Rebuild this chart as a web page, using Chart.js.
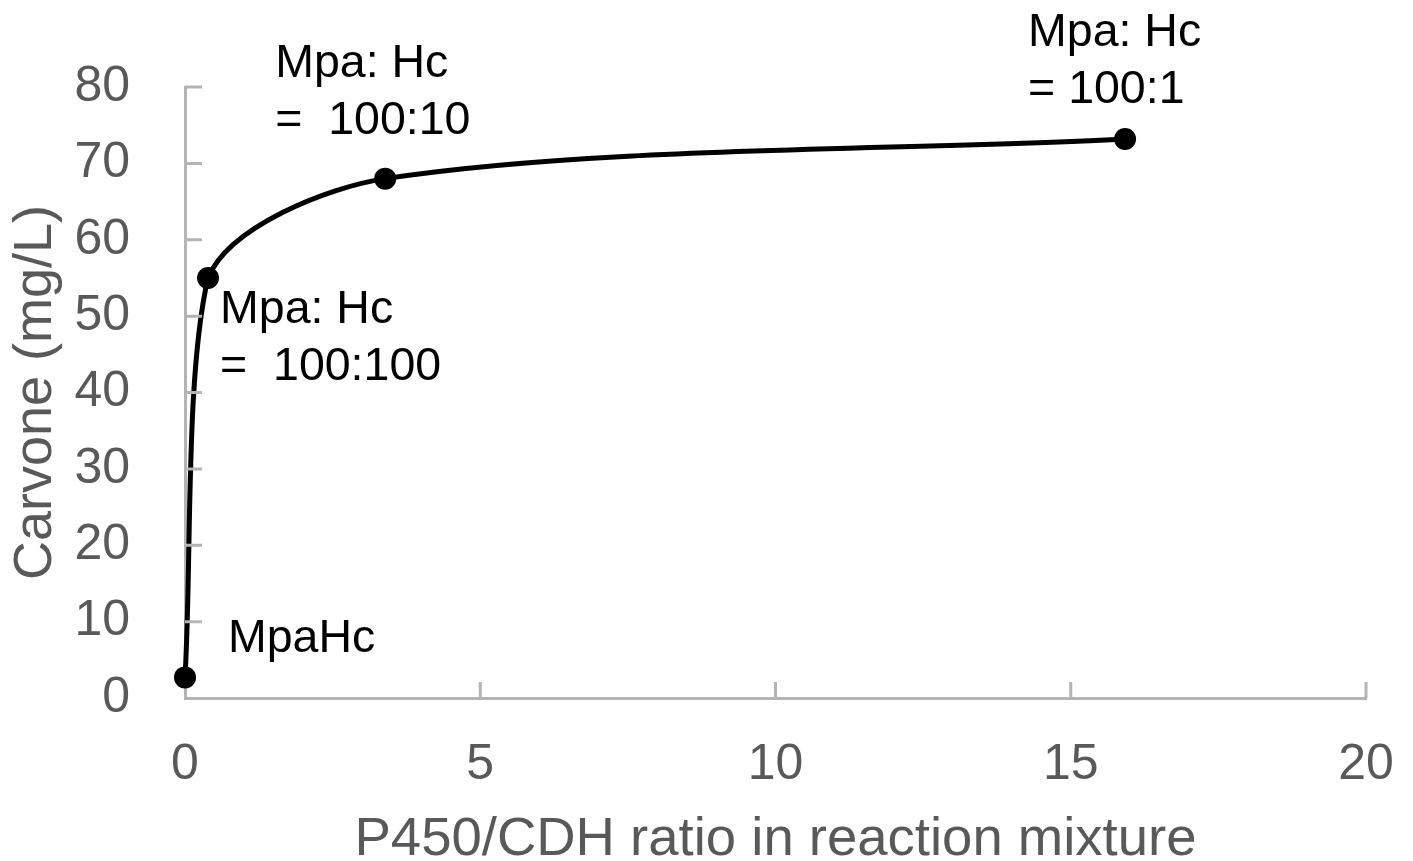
<!DOCTYPE html>
<html>
<head>
<meta charset="utf-8">
<script src="https://cdn.jsdelivr.net/npm/chart.js@4.4.1/dist/chart.umd.min.js"></script>
<style>
    html, body { margin: 0; padding: 0; background: #fff; }
    #wrap { width: 1413px; height: 861px; }
</style>
</head>
<body>
<div id="wrap"><canvas id="chart" width="1413" height="861"></canvas></div>
<script>
'use strict';

// P450/CDH ratio vs carvone titre
const ratios = [0, 0.39, 3.39, 15.92];
const carvone = [2.7, 55, 68, 73.2];
const pointLabels = [
    ['MpaHc'],
    ['Mpa: Hc', '=  100:100'],
    ['Mpa: Hc', '=  100:10'],
    ['Mpa: Hc', '= 100:1']
];
const xTicks = [0, 5, 10, 15, 20];
const yTicks = [0, 10, 20, 30, 40, 50, 60, 70, 80];

const grey = '#595959';
const axisGrey = '#b4b4b4';
const fontFamily = '"Liberation Sans", Arial, sans-serif';

// where each label sits relative to its point (px)
const labelOffsets = [[43, -38], [12, 32], [-110, -114], [-97, -106]];

const labelPlugin = {
    id: 'pointLabels',
    afterDatasetsDraw(chart) {
        const ctx = chart.ctx;
        const meta = chart.getDatasetMeta(0);
        ctx.save();
        ctx.fillStyle = '#000';
        ctx.font = '46.5px ' + fontFamily;
        ctx.textBaseline = 'middle';
        ctx.textAlign = 'left';
        meta.data.forEach((pt, i) => {
            const [dx, dy] = labelOffsets[i];
            pointLabels[i].forEach((line, j) => {
                ctx.fillText(line, pt.x + dx, pt.y + dy + j * 57);
            });
        });
        ctx.restore();
    }
};

// small inward tick marks like the original
const innerTicks = {
    id: 'innerTicks',
    afterDraw(chart) {
        const ctx = chart.ctx;
        const x = chart.scales.x, y = chart.scales.y;
        const area = chart.chartArea;
        ctx.save();
        ctx.strokeStyle = axisGrey;
        ctx.lineWidth = 3;
        ctx.beginPath();
        xTicks.forEach(v => {
            if (v === 0) return;
            const px = x.getPixelForValue(v);
            ctx.moveTo(px, area.bottom);
            ctx.lineTo(px, area.bottom - 16);
        });
        yTicks.forEach(v => {
            if (v === 0) return;
            const py = y.getPixelForValue(v);
            ctx.moveTo(area.left, py);
            ctx.lineTo(area.left + 17, py);
        });
        ctx.stroke();
        ctx.restore();
    }
};

const ctx = document.getElementById('chart');
new Chart(ctx, {
    type: 'line',
    data: {
        datasets: [{
            data: ratios.map((r, i) => ({ x: r, y: carvone[i] })),
            borderColor: '#000',
            backgroundColor: '#000',
            borderWidth: 5,
            pointRadius: 11,
            pointBackgroundColor: '#000',
            pointBorderWidth: 0,
            tension: 0.3,
            clip: false
        }]
    },
    options: {
        responsive: false,
        animation: false,
        layout: { padding: { top: 87, right: 47, left: 0, bottom: 0 } },
        plugins: {
            legend: { display: false },
            tooltip: { enabled: false }
        },
        scales: {
            x: {
                type: 'linear',
                min: 0,
                max: 20,
                afterFit: (s) => {
                    s.height = 163;
                    s.paddingLeft = 0;
                    s.paddingRight = 0;
                },
                afterBuildTicks: (s) => { s.ticks = xTicks.map(v => ({ value: v })); },
                grid: { display: false },
                border: { display: true, color: axisGrey, width: 3 },
                ticks: {
                    color: grey,
                    padding: 29,
                    font: { family: fontFamily, size: 50 }
                },
                title: {
                    display: true,
                    text: 'P450/CDH ratio in reaction mixture',
                    color: grey,
                    padding: { top: 0, bottom: -12 },
                    font: { family: fontFamily, size: 54.5 }
                }
            },
            y: {
                min: 0,
                max: 80,
                afterFit: (s) => {
                    s.width = 185;
                    s.paddingTop = 0;
                    s.paddingBottom = 0;
                },
                afterBuildTicks: (s) => { s.ticks = yTicks.map(v => ({ value: v })); },
                grid: { display: false },
                border: { display: true, color: axisGrey, width: 3 },
                ticks: {
                    color: grey,
                    padding: 47,
                    font: { family: fontFamily, size: 50 }
                },
                title: {
                    display: true,
                    text: 'Carvone (mg/L)',
                    color: grey,
                    padding: { top: 4, bottom: 0 },
                    font: { family: fontFamily, size: 54 }
                }
            }
        }
    },
    plugins: [labelPlugin, innerTicks]
});
</script>
</body>
</html>
